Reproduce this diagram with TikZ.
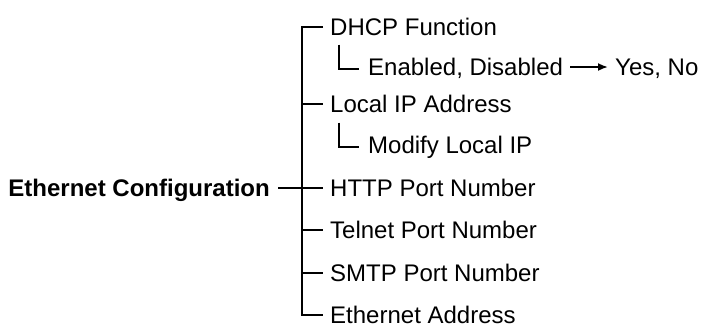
\documentclass[tikz,border=0pt]{standalone}
\usepackage{fontspec}
\setmainfont{Liberation Sans}
\usetikzlibrary{arrows.meta}
\tikzset{>=latex}
\tikzstyle{item}=[anchor=west,inner sep=0pt,inner xsep=7pt,text height=17pt,text depth=0pt,font=\fontsize{24}{28}\selectfont]
\tikzstyle{root}=[item,anchor=east,inner xsep=8pt,font=\fontsize{24}{28}\selectfont\bfseries]
\tikzstyle{branch}=[black,line width=1.6pt]

\begin{document}
\begin{tikzpicture}[x=1pt,y=-1pt]
  \def\tx{302}  % trunk position
  \def\ix{323}  % main items
  \def\sx{361}  % sub items
  \useasboundingbox (0,0) rectangle (702,330);

  % root and items
  \node[root] (eth) at (278,188) {Ethernet Configuration};
  \node[item] (dhcp) at (\ix,27) {DHCP Function};
  \node[item] (enab) at (\sx,67) {Enabled, Disabled};
  \node[item] (yesno) at (608,67) {Yes, No};
  \node[item] (local) at (\ix,104) {Local IP Address};
  \node[item] (modify) at (\sx,145) {Modify Local IP};
  \node[item] (http) at (\ix,188) {HTTP Port Number};
  \node[item] (telnet) at (\ix,230) {Telnet Port Number};
  \node[item] (smtp) at (\ix,273) {SMTP Port Number};
  \node[item] (ethaddr) at (\ix,315) {Ethernet Address};

  % trunk with top and bottom corner
  \coordinate (top) at (\tx,27);
  \draw[branch] (dhcp.west) -- (top) -- (top |- ethaddr.west) -- (ethaddr.west);
  \foreach \n in {local,http,telnet,smtp}
    \draw[branch] (top |- \n.west) -- (\n.west);
  \draw[branch] (eth.east) -- (top |- eth.east);

  % sub items
  \foreach \n in {enab,modify}
    \draw[branch] ([xshift=-22pt,yshift=31pt]\n.south west) |- ([xshift=-2pt,yshift=7pt]\n.south west);
  \draw[->,line width=1.8pt,-{Latex[length=10pt,width=8pt]}] (enab.east) -- (yesno.west);
\end{tikzpicture}
\end{document}
